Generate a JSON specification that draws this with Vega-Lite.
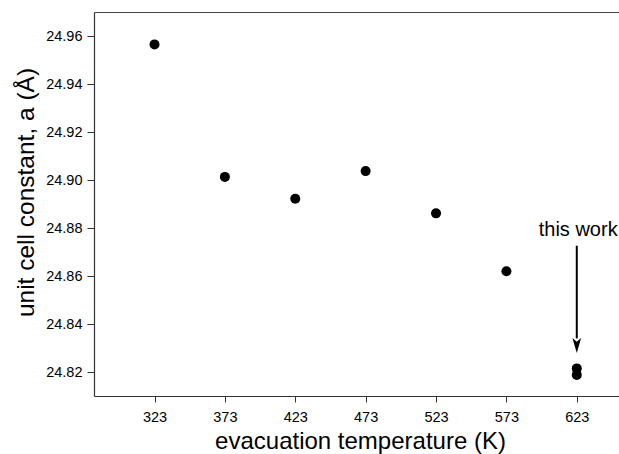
{
  "$schema": "https://vega.github.io/schema/vega-lite/v6.json",
  "width": 525,
  "height": 384,
  "autosize": {"type": "none"},
  "padding": {"left": 94, "top": 12, "right": 0, "bottom": 58},
  "background": "white",
  "config": {
    "view": {"stroke": null},
    "font": "Liberation Sans",
    "axis": {
      "grid": false,
      "domainColor": "#333333",
      "domainWidth": 1.2,
      "tickColor": "#333333",
      "labelColor": "#000000",
      "titleColor": "#000000",
      "labelFont": "Liberation Sans",
      "titleFont": "Liberation Sans",
      "titleFontWeight": "normal"
    }
  },
  "datasets": {
    "points": [
      {"x": 323, "y": 24.9565},
      {"x": 373, "y": 24.9013},
      {"x": 423, "y": 24.8922},
      {"x": 473, "y": 24.9037},
      {"x": 523, "y": 24.8861},
      {"x": 573, "y": 24.862},
      {"x": 623, "y": 24.8215},
      {"x": 623, "y": 24.8188}
    ],
    "arrow": [{"x": 623, "y": 24.8726, "y2": 24.834}],
    "head": [{"x": 623, "y": 24.831}],
    "label": [{"x": 624, "y": 24.8767, "text": "this work"}]
  },
  "resolve": {"axis": {"x": "independent", "y": "independent"}},
  "layer": [
    {
      "data": {"name": "points"},
      "mark": {"type": "point", "filled": true, "color": "#000000", "opacity": 1, "size": 100},
      "encoding": {
        "x": {
          "field": "x", "type": "quantitative",
          "scale": {"domain": [280, 653], "nice": false, "zero": false},
          "axis": {
            "values": [323, 373, 423, 473, 523, 573, 623],
            "format": "d",
            "tickSize": 6,
            "labelPadding": 8,
            "labelFontSize": 14.5,
            "title": "evacuation temperature (K)",
            "titleFontSize": 24,
            "titleX": 266,
            "titleY": 52,
            "titleBaseline": "alphabetic",
            "titleAlign": "center"
          }
        },
        "y": {
          "field": "y", "type": "quantitative",
          "scale": {"domain": [24.81, 24.97], "nice": false, "zero": false},
          "axis": {
            "values": [24.82, 24.84, 24.86, 24.88, 24.9, 24.92, 24.94, 24.96],
            "format": ".2f",
            "tickSize": 7,
            "labelPadding": 5,
            "labelFontSize": 14.5,
            "title": "unit cell constant, a (Å)",
            "titleFontSize": 24.5,
            "titleAngle": 270,
            "titleX": -61,
            "titleY": 180,
            "titleBaseline": "alphabetic",
            "titleAlign": "center"
          }
        }
      }
    },
    {
      "data": {"name": "arrow"},
      "mark": {"type": "rule", "color": "#000000", "strokeWidth": 2},
      "encoding": {
        "x": {"field": "x", "type": "quantitative", "axis": null},
        "y": {"field": "y", "type": "quantitative", "axis": null},
        "y2": {"field": "y2"}
      }
    },
    {
      "data": {"name": "head"},
      "mark": {"type": "point", "filled": true, "color": "#000000", "opacity": 1, "size": 225, "shape": "M0,1L-0.58,-1L0,-0.5L0.58,-1Z"},
      "encoding": {
        "x": {"field": "x", "type": "quantitative", "axis": null},
        "y": {"field": "y", "type": "quantitative", "axis": null}
      }
    },
    {
      "data": {"name": "label"},
      "mark": {"type": "text", "fontSize": 20, "align": "center", "baseline": "alphabetic", "color": "#000000", "font": "Liberation Sans"},
      "encoding": {
        "x": {
          "field": "x", "type": "quantitative",
          "axis": {"orient": "top", "labels": false, "ticks": false, "title": null, "domain": true, "domainColor": "#444444", "domainWidth": 1.2}
        },
        "y": {"field": "y", "type": "quantitative", "axis": null},
        "text": {"field": "text"}
      }
    }
  ]
}
